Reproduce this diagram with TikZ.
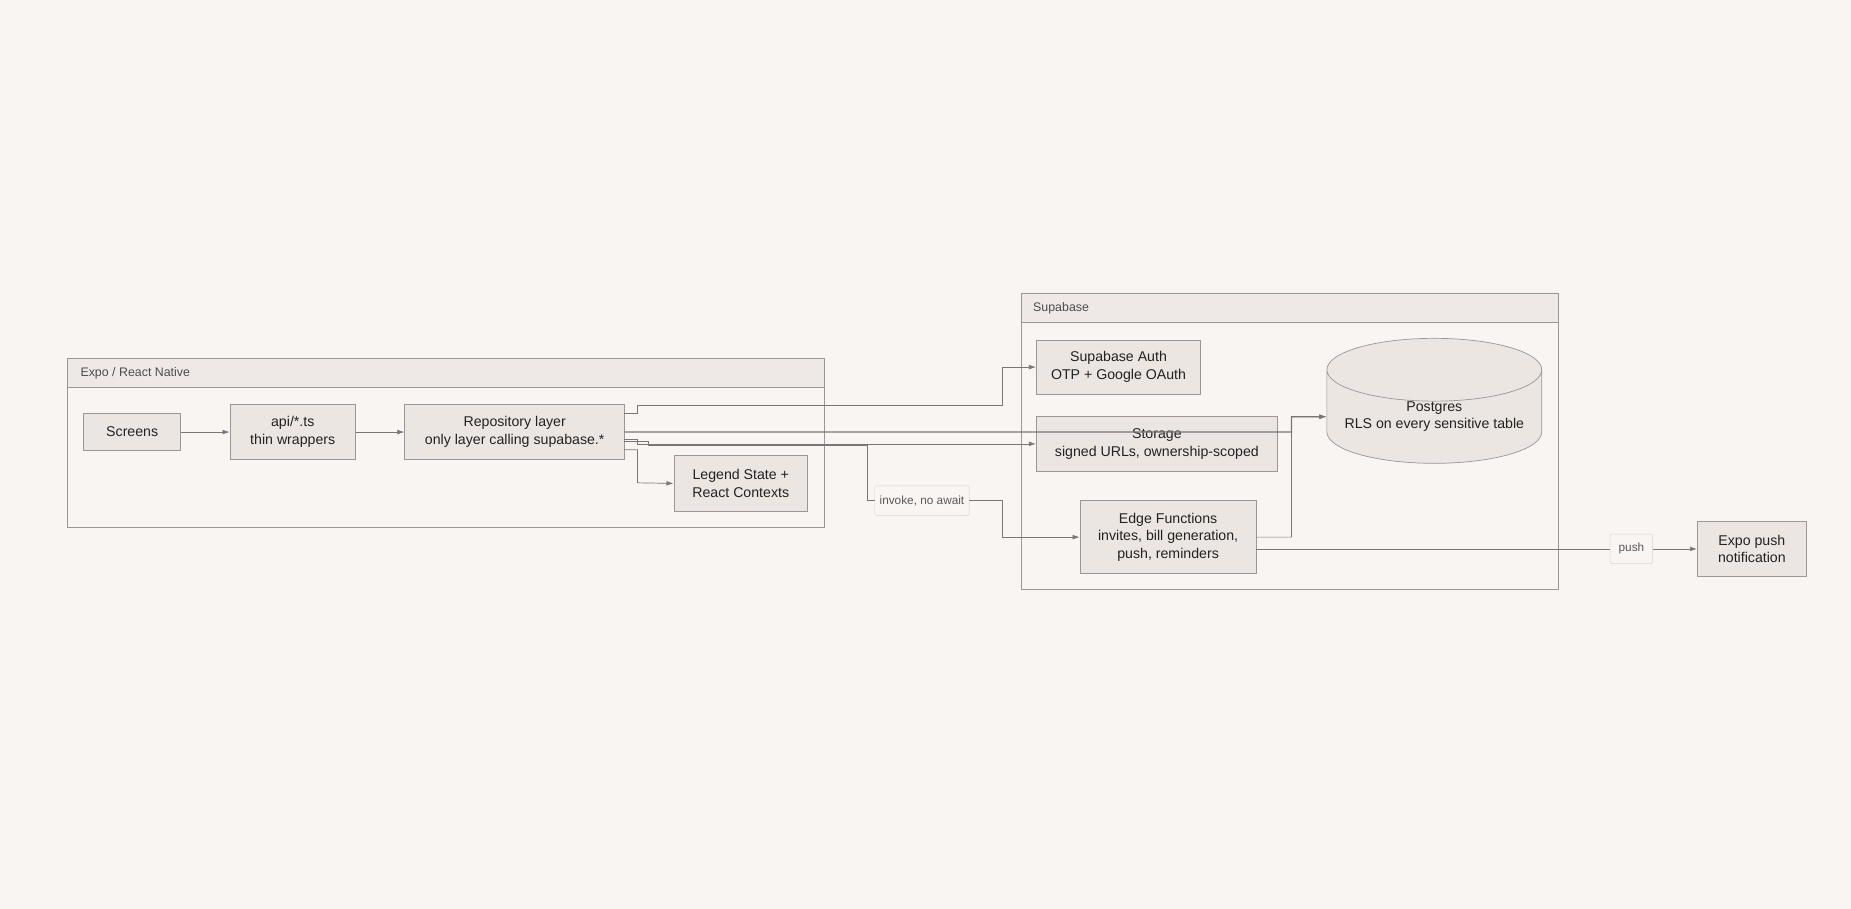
\documentclass[tikz,border=0pt]{standalone}
\usepackage{fontspec}
\setmainfont{Liberation Sans}
\usetikzlibrary{shapes.geometric,arrows.meta}
\definecolor{bg}{HTML}{F9F5F2}
\definecolor{nfill}{HTML}{ECE6E3}
\definecolor{hfill}{HTML}{EEE9E6}
\definecolor{bord}{HTML}{9C9696}
\definecolor{ln}{HTML}{7A7676}
\definecolor{txt}{HTML}{222222}
\begin{document}
\begin{tikzpicture}[x=1pt,y=-1pt,
  box/.style={draw=bord,fill=nfill,line width=0.8pt,align=center,text=txt,font=\fontsize{12}{15}\selectfont,inner sep=0pt},
  cont/.style={draw=bord,line width=0.8pt},
  hdr/.style={draw=bord,fill=hfill,line width=0.8pt},
  htxt/.style={text=black!70,font=\fontsize{10.5}{12}\selectfont,anchor=west,inner sep=0pt},
  lbl/.style={draw=bord!40,fill=bg,text=black!65,font=\fontsize{10}{12}\selectfont,inner sep=0pt,rounded corners=1pt},
  arr/.style={draw=ln,line width=0.6pt,-{Latex[length=6pt,width=4pt]}},
  pl/.style={draw=ln,line width=0.6pt}]
\fill[bg] (0,0) rectangle (1568,770);
\useasboundingbox (0,0) rectangle (1568,770);
% containers
\draw[cont] (57,304) rectangle (698,447);
\draw[hdr] (57,304) rectangle (698,328);
\node[htxt] (hexpo) at (68,316) {Expo / React Native};
\draw[cont] (865,249) rectangle (1320,499);
\draw[hdr] (865,249) rectangle (1320,273);
\node[htxt] (hsup) at (875,261) {Supabase};
% nodes
\node[box,minimum width=82,minimum height=31] (scr) at (112,366) {Screens};
\node[box,minimum width=106,minimum height=46] (api) at (248,366) {api/*.ts\\thin wrappers};
\node[box,minimum width=186,minimum height=46] (repo) at (436,366) {Repository layer\\only layer calling supabase.*};
\node[box,minimum width=113,minimum height=47] (leg) at (627.5,409.5) {Legend State +\\React Contexts};
\node[box,minimum width=139,minimum height=46] (auth) at (947.5,311) {Supabase Auth\\OTP + Google OAuth};
\node[box,minimum width=204,minimum height=46] (stor) at (980,376) {Storage\\signed URLs, ownership-scoped};
\node[cylinder,shape border rotate=90,aspect=0.35,draw=bord,fill=nfill,cylinder uses custom fill,cylinder body fill=nfill,cylinder end fill=hfill!85!black!10,line width=0.6pt,minimum width=182,minimum height=58,inner sep=0pt,align=center,text=txt,font=\fontsize{12}{15}\selectfont] (pg) at (1215,353) {Postgres\\RLS on every sensitive table};
\node[box,minimum width=149,minimum height=62] (edge) at (989.5,455) {Edge Functions\\invites, bill generation,\\push, reminders};
\node[box,minimum width=92,minimum height=46] (push) at (1484,465) {Expo push\\notification};
\node[lbl,minimum width=80,minimum height=25] (inv) at (781,424) {invoke, no await};
\node[lbl,minimum width=36,minimum height=25] (pl) at (1382,465) {push};
% edges
\draw[arr] (scr) -- (api);
\draw[arr] (api) -- (repo);
\draw[arr] (529,350) -- (540,350) -- (540,343) -- (849,343) -- (849,311) -- (auth.west);
\draw[arr,line width=1pt] (529,366) -- (1094,366) -- (1094,353) -- (pg.west);
\draw[arr] (529,372) -- (540,372) -- (540,376) -- (849,376) -- (stor.west);
\draw[arr] (529,381) -- (540,381) -- (540,409) -- (leg.west);
\draw[pl] (529,374) -- (549,374) -- (549,377) -- (735,377) -- (735,424) -- (inv.west);
\draw[arr] (inv.east) -- (849,424) -- (849,455) -- (edge.west);
\draw[arr] (1064,455) -- (1094,455) -- (1094,353) -- (pg.west);
\draw[pl] (1064,465) -- (pl.west);
\draw[arr] (pl.east) -- (push.west);
\end{tikzpicture}
\end{document}
